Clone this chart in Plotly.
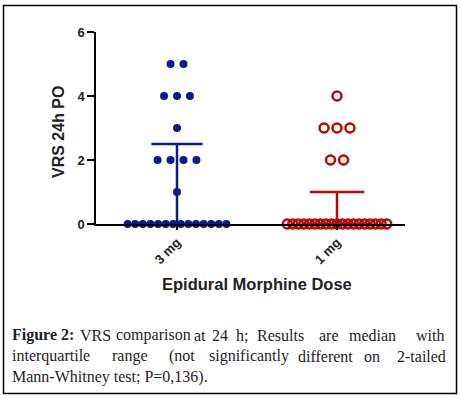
import plotly.graph_objects as go

# ---------------- data ----------------
groups = ["3 mg", "1 mg"]
# VRS scores per group (value -> count)
vals_3mg = [0] * 14 + [1] + [2] * 4 + [3] + [4] * 3 + [5] * 2
vals_1mg = [0] * 19 + [2] * 2 + [3] * 3 + [4]
medians = [0, 0]
q1s = [0, 0]
q3s = [2.5, 1]
yticks = [0, 2, 4, 6]
x_title = "Epidural Morphine Dose"
y_title = "VRS 24h PO"
caption_line1 = ["Figure 2:", "VRS", "comparison", "at", "24", "h;", "Results", "are", "median", "with"]
caption_line1_x = [10, 78, 114, 192, 210, 234, 255, 317, 347, 414]
caption_line2 = ["interquartile", "range", "(not", "significantly", "different", "on", "2-tailed"]
caption_line2_x = [10, 110, 167, 207, 296, 362, 395]
caption_line3 = "Mann-Whitney test; P=0,136)."

colors = ["#0d1a8c", "#b40a0a"]

# ---------------- layout geometry (pixels) ----------------
W, H = 462, 398
L, R, T, B = 96, 405, 32, 224
PW, PH = R - L, B - T


def px2x(px):
    return (px - L) / PW


def py2y(py):
    return (B - py) / PH


def swarm(values, center, row_gap, zero_gap):
    xs, ys = [], []
    uniq = sorted(set(values))
    for v in uniq:
        n = values.count(v)
        gap = zero_gap if v == 0 else row_gap
        for i in range(n):
            xs.append(center + (i - (n - 1) / 2) * gap)
            ys.append(v)
    return xs, ys


fig = go.Figure()
centers = [1, 2]
cap_half = [0.16, 0.17]
for k, (vals, c) in enumerate(zip([vals_3mg, vals_1mg], centers)):
    col = colors[k]
    # interquartile bar
    fig.add_trace(go.Scatter(x=[c, c], y=[q1s[k], q3s[k]], mode="lines",
                             line=dict(color=col, width=2.5), showlegend=False,
                             hoverinfo="skip", cliponaxis=False))
    fig.add_trace(go.Scatter(x=[c - cap_half[k], c + cap_half[k]], y=[q3s[k], q3s[k]],
                             mode="lines", line=dict(color=col, width=2.5),
                             showlegend=False, hoverinfo="skip", cliponaxis=False))
    fig.add_trace(go.Scatter(x=[c - 0.22, c + 0.22], y=[medians[k], medians[k]],
                             mode="lines", line=dict(color=col, width=2.5),
                             showlegend=False, hoverinfo="skip", cliponaxis=False))
    zero_gap = 0.0475 if k == 0 else 0.0345
    xs, ys = swarm(vals, c, 0.081, zero_gap)
    if k == 0:
        marker = dict(symbol="circle", size=8, color=col)
    else:
        marker = dict(symbol="circle-open", size=9, color=col, line=dict(width=2.5, color=col))
    fig.add_trace(go.Scatter(x=xs, y=ys, mode="markers", marker=marker,
                             showlegend=False, cliponaxis=False))

font_sans = "Liberation Sans, Arial, sans-serif"
font_serif = "Liberation Serif, Times New Roman, serif"
cap_size = 16

annotations = []
annotations.append(dict(x=px2x(257), y=py2y(284), xref="paper", yref="paper",
                        text="<b>" + x_title + "</b>", showarrow=False,
                        font=dict(family=font_sans, size=16.5, color="#222"),
                        xanchor="center", yanchor="middle"))
annotations.append(dict(x=px2x(58), y=py2y(132), xref="paper", yref="paper",
                        text="<b>" + y_title + "</b>", showarrow=False, textangle=-90,
                        font=dict(family=font_sans, size=16, color="#222"),
                        xanchor="center", yanchor="middle"))
for w, xp in zip(caption_line1, caption_line1_x):
    t = "<b>" + w + "</b>" if w == "Figure 2:" else w
    annotations.append(dict(x=px2x(xp), y=py2y(335), xref="paper", yref="paper",
                            text=t, showarrow=False,
                            font=dict(family=font_serif, size=cap_size, color="#1c1c2c"),
                            xanchor="left", yanchor="middle"))
for w, xp in zip(caption_line2, caption_line2_x):
    annotations.append(dict(x=px2x(xp), y=py2y(356), xref="paper", yref="paper",
                            text=w, showarrow=False,
                            font=dict(family=font_serif, size=cap_size, color="#1c1c2c"),
                            xanchor="left", yanchor="middle"))
annotations.append(dict(x=px2x(10), y=py2y(377), xref="paper", yref="paper",
                        text=caption_line3, showarrow=False,
                        font=dict(family=font_serif, size=cap_size, color="#1c1c2c"),
                        xanchor="left", yanchor="middle"))

fig.update_layout(
    width=W, height=H,
    margin=dict(l=L, r=W - R, t=T, b=H - B, pad=0),
    paper_bgcolor="white", plot_bgcolor="white",
    showlegend=False,
    annotations=annotations,
    shapes=[dict(type="rect", xref="paper", yref="paper",
                 x0=px2x(3.5), x1=px2x(456.5), y0=py2y(393.5), y1=py2y(5.5),
                 line=dict(color="black", width=1.5), fillcolor="rgba(0,0,0,0)")],
    xaxis=dict(range=[1 - (177 - L) / 160, 1 + (R - 177) / 160],
               tickvals=centers, ticktext=["<b>" + g + "</b>" for g in groups],
               tickangle=-45, showline=True, linecolor="black", linewidth=1.5,
               ticks="outside", ticklen=4, tickwidth=1.5, tickcolor="black",
               showgrid=False, zeroline=False,
               tickfont=dict(family=font_sans, size=13, color="#222")),
    yaxis=dict(range=[0, 6], tickvals=yticks, ticktext=["<b>%d</b>" % v for v in yticks],
               showline=True, linecolor="black", linewidth=1.5,
               ticks="outside", ticklen=7, tickwidth=1.5, tickcolor="black",
               showgrid=False, zeroline=False,
               tickfont=dict(family=font_sans, size=13, color="#222")),
)

fig.write_html("out.html", config={"displayModeBar": False},
               post_script="document.body.style.margin='0';document.body.style.overflow='hidden';")
